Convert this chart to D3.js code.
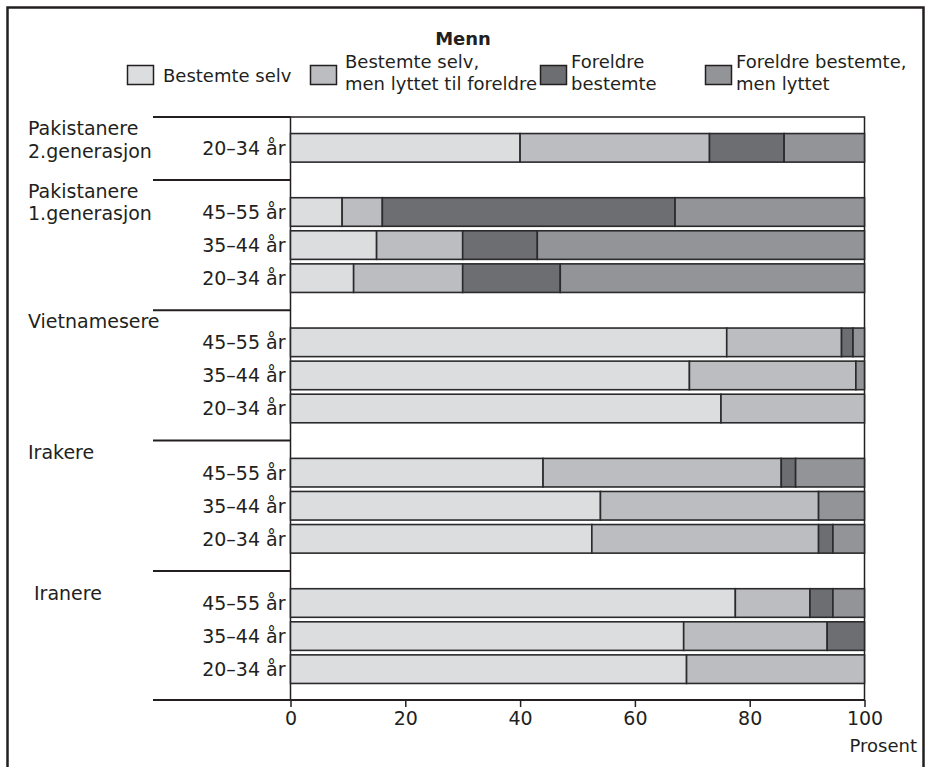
<!DOCTYPE html>
<html>
<head>
<meta charset="utf-8">
<script src="https://cdn.jsdelivr.net/npm/d3@7"></script>
<style>
  html, body { margin: 0; padding: 0; background: #fff; }
  svg { display: block; }
  text { font-family: "DejaVu Sans", "Open Sans", sans-serif; fill: #231f20; }
</style>
</head>
<body>
<svg id="chart" width="925" height="767"></svg>
<script>
// ---------------- DATA ----------------
const title = "Menn";
const seriesNames = [
  ["Bestemte selv"],
  ["Bestemte selv,", "men lyttet til foreldre"],
  ["Foreldre", "bestemte"],
  ["Foreldre bestemte,", "men lyttet"]
];
const groupLabels = [
  ["Pakistanere", "2.generasjon"],
  ["Pakistanere", "1.generasjon"],
  ["Vietnamesere"],
  ["Irakere"],
  ["Iranere"]
];
const groupAges = [
  ["20–34 år"],
  ["45–55 år", "35–44 år", "20–34 år"],
  ["45–55 år", "35–44 år", "20–34 år"],
  ["45–55 år", "35–44 år", "20–34 år"],
  ["45–55 år", "35–44 år", "20–34 år"]
];
// values per row, in row order (top to bottom)
const bestemteSelv        = [40, 9, 15, 11, 76, 69.5, 75, 44, 54, 52.5, 77.5, 68.5, 69];
const bestemteSelvLyttet  = [33, 7, 15, 19, 20, 29, 25, 41.5, 38, 39.5, 13, 25, 31];
const foreldreBestemte    = [13, 51, 13, 17, 2, 0, 0, 2.5, 0, 2.5, 4, 6.5, 0];
const foreldreLyttet      = [14, 33, 57, 53, 2, 1.5, 0, 12, 8, 5.5, 5.5, 0, 0];
const xTicks = [0, 20, 40, 60, 80, 100];
const xLabel = "Prosent";

// ---------------- STYLE / LAYOUT ----------------
const colors = ["#dcdddf", "#bcbdc0", "#6d6e72", "#939498"];
const ink = "#231f20";
const plot = { left: 290.5, right: 864.5, top: 117, bottom: 700 };
const sepLeft = 153;
const legendBoxX = [127, 310, 540, 705];
const legendTextX = [163, 345, 571, 736];
const barFrac = 0.864;   // bar thickness, in row-pitch units
const gapUnits = 0.94;   // extra space between groups, in row-pitch units
const outerUnits = 0.5;  // space above first / below last bar

const svg = d3.select("#chart");

// outer frame
svg.append("rect").attr("x", 7.5).attr("y", 7.5).attr("width", 916).attr("height", 780)
  .attr("fill", "none").attr("stroke", ink).attr("stroke-width", 2.5);

// build rows: position in row units (row index + group gaps)
const rows = [];
const seriesArrays = [bestemteSelv, bestemteSelvLyttet, foreldreBestemte, foreldreLyttet];
const groupStart = [], groupEnd = [];
let ri = 0;
groupAges.forEach((ages, g) => {
  ages.forEach((a, k) => {
    const u = ri + g * gapUnits;
    if (k === 0) groupStart.push(u);
    rows.push({ key: "r" + ri, group: g, age: a, u, values: seriesArrays.map(s => s[ri]) });
    groupEnd[g] = u + barFrac;
    ri++;
  });
});
const lastU = rows[rows.length - 1].u;

const x = d3.scaleLinear().domain([0, 100]).range([plot.left, plot.right]);
const y = d3.scaleLinear().domain([-outerUnits, lastU + barFrac + outerUnits])
  .range([plot.top, plot.bottom]);
const bh = y(barFrac) - y(0);

// title
svg.append("text").attr("x", 463).attr("y", 45).attr("text-anchor", "middle")
  .style("font-size", "18px").style("font-weight", 700).text(title);

// legend
seriesNames.forEach((lines, i) => {
  svg.append("rect").attr("x", legendBoxX[i] + 0.5).attr("y", 65.5)
    .attr("width", 26).attr("height", 19)
    .attr("fill", colors[i]).attr("stroke", ink).attr("stroke-width", 1.5);
  if (lines.length === 1) {
    svg.append("text").attr("x", legendTextX[i]).attr("y", 82)
      .style("font-size", "18px").text(lines[0]);
  } else {
    lines.forEach((l, j) => {
      svg.append("text").attr("x", legendTextX[i]).attr("y", 67.5 + j * 22.5)
        .style("font-size", "18px").text(l);
    });
  }
});

// plot frame
svg.append("rect").attr("x", plot.left).attr("y", plot.top)
  .attr("width", plot.right - plot.left).attr("height", plot.bottom - plot.top)
  .attr("fill", "#fff").attr("stroke", ink).attr("stroke-width", 1.5);

// group separator lines (left side): top, and midway between groups
const sepYs = [plot.top];
for (let g = 1; g < groupAges.length; g++) {
  sepYs.push(y((groupEnd[g - 1] + groupStart[g]) / 2));
}
svg.selectAll("line.sep").data(sepYs).join("line").attr("class", "sep")
  .attr("x1", sepLeft).attr("x2", plot.left)
  .attr("y1", d => d).attr("y2", d => d)
  .attr("stroke", ink).attr("stroke-width", 2);

// bars
const stacked = rows.map(r => {
  let acc = 0;
  return r.values.map((v, i) => {
    const seg = { u: r.u, i, x0: acc, x1: acc + v };
    acc += v;
    return seg;
  }).filter(s => s.x1 > s.x0);
});
const rowG = svg.append("g").selectAll("g").data(stacked).join("g");
rowG.selectAll("rect").data(d => d).join("rect")
  .attr("x", d => x(d.x0)).attr("width", d => x(d.x1) - x(d.x0))
  .attr("y", d => y(d.u)).attr("height", bh)
  .attr("fill", d => colors[d.i]).attr("stroke", "#2a2a2c").attr("stroke-width", 1.6);

// age labels
svg.selectAll("text.age").data(rows).join("text").attr("class", "age")
  .attr("x", plot.left - 5).attr("y", d => y(d.u) + bh / 2)
  .attr("dy", "0.36em").attr("text-anchor", "end").style("font-size", "19px")
  .text(d => d.age);

// group labels
groupLabels.forEach((lines, g) => {
  const top = sepYs[g];
  const last = g === groupLabels.length - 1;
  const extra = last ? 11 : 0;
  const lx = last ? 34 : 28;
  lines.forEach((l, j) => {
    svg.append("text").attr("x", lx).attr("y", top + 18 + extra + j * 22.5)
      .style("font-size", "19px").text(l);
  });
});

// x axis
const axis = svg.append("g").attr("transform", `translate(0,${plot.bottom})`)
  .call(d3.axisBottom(x).tickValues(xTicks).tickSize(7).tickPadding(5).tickFormat(d3.format("d")));
axis.select(".domain").remove();
axis.selectAll(".tick line").attr("stroke", ink).attr("stroke-width", 1.5);
axis.selectAll(".tick text").style("font-size", "19px")
  .style("font-family", "'DejaVu Sans', sans-serif").attr("fill", ink);
svg.append("line").attr("x1", sepLeft).attr("x2", plot.right)
  .attr("y1", plot.bottom).attr("y2", plot.bottom)
  .attr("stroke", ink).attr("stroke-width", 2);

svg.append("text").attr("x", 917).attr("y", 752).attr("text-anchor", "end")
  .style("font-size", "18px").text(xLabel);
</script>
</body>
</html>
